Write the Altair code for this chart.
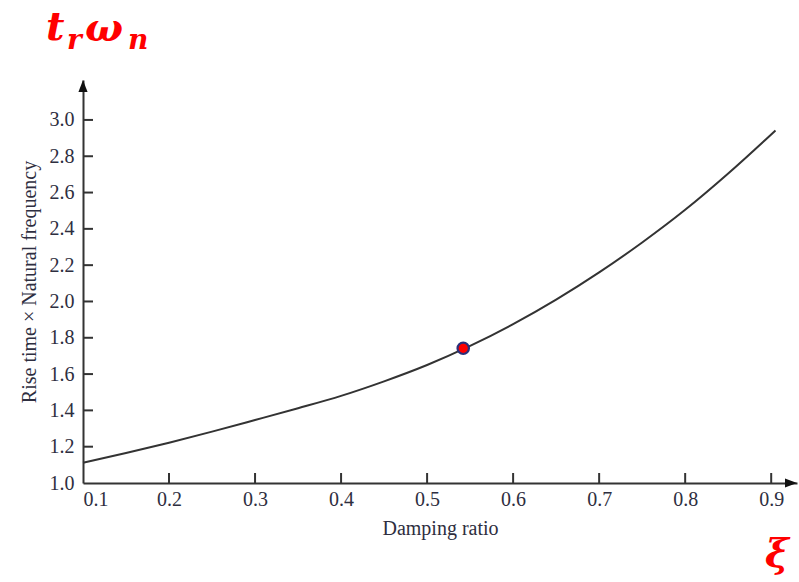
import altair as alt
import pandas as pd

# Normalized rise time vs damping ratio
zeta = [0.10, 0.15, 0.20, 0.25, 0.30, 0.35, 0.40, 0.45, 0.50, 0.55, 0.60, 0.65, 0.70, 0.75, 0.80, 0.85, 0.90, 0.905]
tr_wn = [1.112, 1.165, 1.222, 1.283, 1.347, 1.412, 1.48, 1.56, 1.65, 1.755, 1.875, 2.01, 2.16, 2.325, 2.505, 2.705, 2.92, 2.942]

# Highlighted operating point
pt_zeta = [0.542]
pt_val = [1.742]

x_ticks = [0.1, 0.2, 0.3, 0.4, 0.5, 0.6, 0.7, 0.8, 0.9]
y_ticks = [1.0, 1.2, 1.4, 1.6, 1.8, 2.0, 2.2, 2.4, 2.6, 2.8, 3.0]

X_MIN, X_MAX = 0.1, 0.93
Y_MIN, Y_MAX = 1.0, 3.22

W, H = 714, 403
SERIF = "Liberation Serif"
INK = "#333333"
LABEL = "#2e2e40"

curve = pd.DataFrame({"zeta": zeta, "v": tr_wn})
point = pd.DataFrame({"zeta": pt_zeta, "v": pt_val})
xt = pd.DataFrame({"zeta": x_ticks[1:]})
yt = pd.DataFrame({"v": y_ticks[1:]})

xs = alt.Scale(domain=[X_MIN, X_MAX], nice=False, zero=False)
ys = alt.Scale(domain=[Y_MIN, Y_MAX], nice=False, zero=False)

x_axis = alt.Axis(
    values=x_ticks, format=".1f", ticks=False, grid=False,
    domainColor=INK, domainWidth=2,
    labelFont=SERIF, labelFontSize=20, labelColor=LABEL, labelPadding=6,
    title="Damping ratio", titleFont=SERIF, titleFontSize=20,
    titleFontWeight="normal", titleColor=LABEL, titlePadding=9,
)
y_axis = alt.Axis(
    values=y_ticks, format=".1f", ticks=False, grid=False,
    domainColor=INK, domainWidth=2,
    labelFont=SERIF, labelFontSize=20, labelColor=LABEL, labelPadding=9,
    title="Rise time × Natural frequency", titleFont=SERIF, titleFontSize=20,
    titleFontWeight="normal", titleColor=LABEL, titlePadding=10,
)

base = alt.Chart(curve)

line = base.mark_line(interpolate="monotone", color=INK, strokeWidth=2).encode(
    x=alt.X("zeta:Q", scale=xs, axis=x_axis),
    y=alt.Y("v:Q", scale=ys, axis=y_axis),
)

# Inward tick marks along both axes
x_tick_marks = alt.Chart(xt).mark_rule(color=INK, strokeWidth=2).encode(
    x=alt.X("zeta:Q", scale=xs),
    y=alt.value(H),
    y2=alt.value(H - 10),
)
y_tick_marks = alt.Chart(yt).mark_rule(color=INK, strokeWidth=2).encode(
    y=alt.Y("v:Q", scale=ys),
    x=alt.value(0),
    x2=alt.value(10),
)

# Arrow heads at the ends of the axes
arrow_up = alt.Chart(pd.DataFrame({"zeta": [X_MIN], "v": [Y_MAX]})).mark_point(
    shape="M0,0L-0.38,1L0.38,1Z", size=576, filled=True, color="#111111", opacity=1
).encode(x=alt.X("zeta:Q", scale=xs), y=alt.Y("v:Q", scale=ys))
arrow_right = alt.Chart(pd.DataFrame({"zeta": [X_MAX], "v": [Y_MIN]})).mark_point(
    shape="M0,0L-1,-0.38L-1,0.38Z", size=576, filled=True, color="#111111", opacity=1
).encode(x=alt.X("zeta:Q", scale=xs), y=alt.Y("v:Q", scale=ys))

dot = alt.Chart(point).mark_point(
    shape="circle", size=130, filled=True, fill="#ff0000", stroke="#2b2f7a",
    strokeWidth=2.2, opacity=1
).encode(x=alt.X("zeta:Q", scale=xs), y=alt.Y("v:Q", scale=ys))

# Red symbol annotations: t_r ω_n at top left, ξ at bottom right
RED = "#ff0000"
def sym(txt, x, y, size):
    return alt.Chart(pd.DataFrame({"t": [txt]})).mark_text(
        text=txt, font="DejaVu Serif", fontStyle="italic", fontWeight="bold",
        fontSize=size, color=RED, align="left", baseline="alphabetic",
    ).encode(x=alt.value(x), y=alt.value(y))

t_sym = sym("t", -37, -40, 40)
r_sym = sym("r", -16, -31, 28)
w_sym = sym("ω", 2, -39, 40)
n_sym = sym("n", 45, -31, 28)
xi_sym = sym("ξ", 682, 487, 40)

chart = alt.layer(
    line, x_tick_marks, y_tick_marks, arrow_up, arrow_right, dot,
    t_sym, r_sym, w_sym, n_sym, xi_sym,
).properties(
    width=W, height=H,
    autosize=alt.AutoSizeParams(type="none"),
    padding={"left": 83, "top": 80, "right": 2, "bottom": 99},
).configure(
    background="white",
    view=alt.ViewConfig(strokeWidth=0, stroke="transparent"),
)

chart.save("out.html", embed_options={"renderer": "svg", "actions": False})
